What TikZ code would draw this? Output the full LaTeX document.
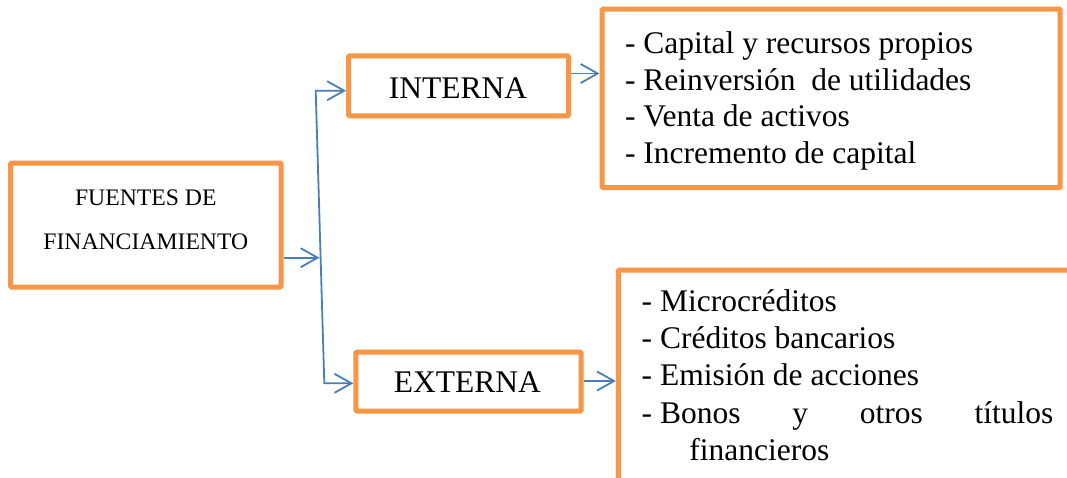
\documentclass[tikz,border=0pt]{standalone}
\usepackage{fontspec}
\setmainfont{Liberation Serif}
\usetikzlibrary{arrows.meta}
\definecolor{boxorange}{HTML}{F79646}
\definecolor{linkblue}{HTML}{4A7EBB}
\tikzset{
  box/.style={draw=boxorange, line width=5pt, rectangle, rounded corners=1pt, inner sep=0pt},
  txt/.style={inner sep=0pt, outer sep=0pt},
  link/.style={draw=linkblue, line width=1.8pt},
  tip/.tip={Straight Barb[length=17pt,width=19pt]},
  arrowlink/.style={link, -tip},
  bothlink/.style={link, tip-tip},
}
\newcommand{\bigfont}{\fontsize{31.5}{36.7}\selectfont}
\begin{document}
\begin{tikzpicture}[x=1pt,y=-1pt]
\fill[white] (0,0) rectangle (1067,477);
\useasboundingbox (0,0) rectangle (1067,477);
\begin{scope}
\clip (0,0) rectangle (1067,477);

% boxes
\node[box, minimum width=270.3pt, minimum height=124pt] (src) at (145.85,225) {};
\node[box, minimum width=220pt, minimum height=60pt] (interna) at (458.5,85.8) {};
\node[box, minimum width=225.2pt, minimum height=59pt] (externa) at (468.4,381.5) {};
\node[box, minimum width=458.2pt, minimum height=178.3pt] (toplist) at (831.1,98.35) {};
\node[box, minimum width=481.6pt, minimum height=250pt] (botlist) at (859.2,395) {};

% texts
\node[txt, anchor=base] (srctext) at (145.8,205)
  {\vtop{\fontsize{23.7}{44.3}\selectfont
   \hbox{\makebox[0pt]{FUENTES DE}}\hbox{\makebox[0pt]{FINANCIAMIENTO}}}};
\node[txt, anchor=base, font=\bigfont] (intext) at (458,98.3) {INTERNA};
\node[txt, anchor=base, font=\bigfont] (extext) at (467.3,392.7) {EXTERNA};
\node[txt, anchor=base west] (toptext) at (625,53.3)
  {\vtop{\fontsize{31.5}{36.7}\selectfont
   \hbox{- Capital y recursos propios}
   \hbox{- Reinversión~~de utilidades}
   \hbox{- Venta de activos}
   \hbox{- Incremento de capital}}};
\node[txt, anchor=base west] (bottext) at (641.7,311.7)
  {\vtop{\fontsize{31.5}{37.1}\selectfont
   \hbox{- Microcréditos}
   \hbox{- Créditos bancarios}
   \hbox{- Emisión de acciones}
   \hbox to 411.6pt{- Bonos\hfill y\hfill otros\hfill títulos}
   \hbox{\hspace{47.6pt}financieros}}};

% connectors
\coordinate (jt) at (315.7,90.7);
\coordinate (jm) at (319.5,257.7);
\coordinate (jb) at (324.3,383.3);
\coordinate (ra) at (0,73.5);
\coordinate (rb) at (0,381);
\draw[arrowlink] (src.east |- jm) -- (jm);
\draw[bothlink] (interna.west |- jt) -- (jt) -- (jb) -- (externa.west |- jb);
\draw[arrowlink] (interna.east |- ra) -- (toplist.west |- ra);
\draw[arrowlink] (externa.east |- rb) -- (botlist.west |- rb);
\end{scope}
\end{tikzpicture}
\end{document}
